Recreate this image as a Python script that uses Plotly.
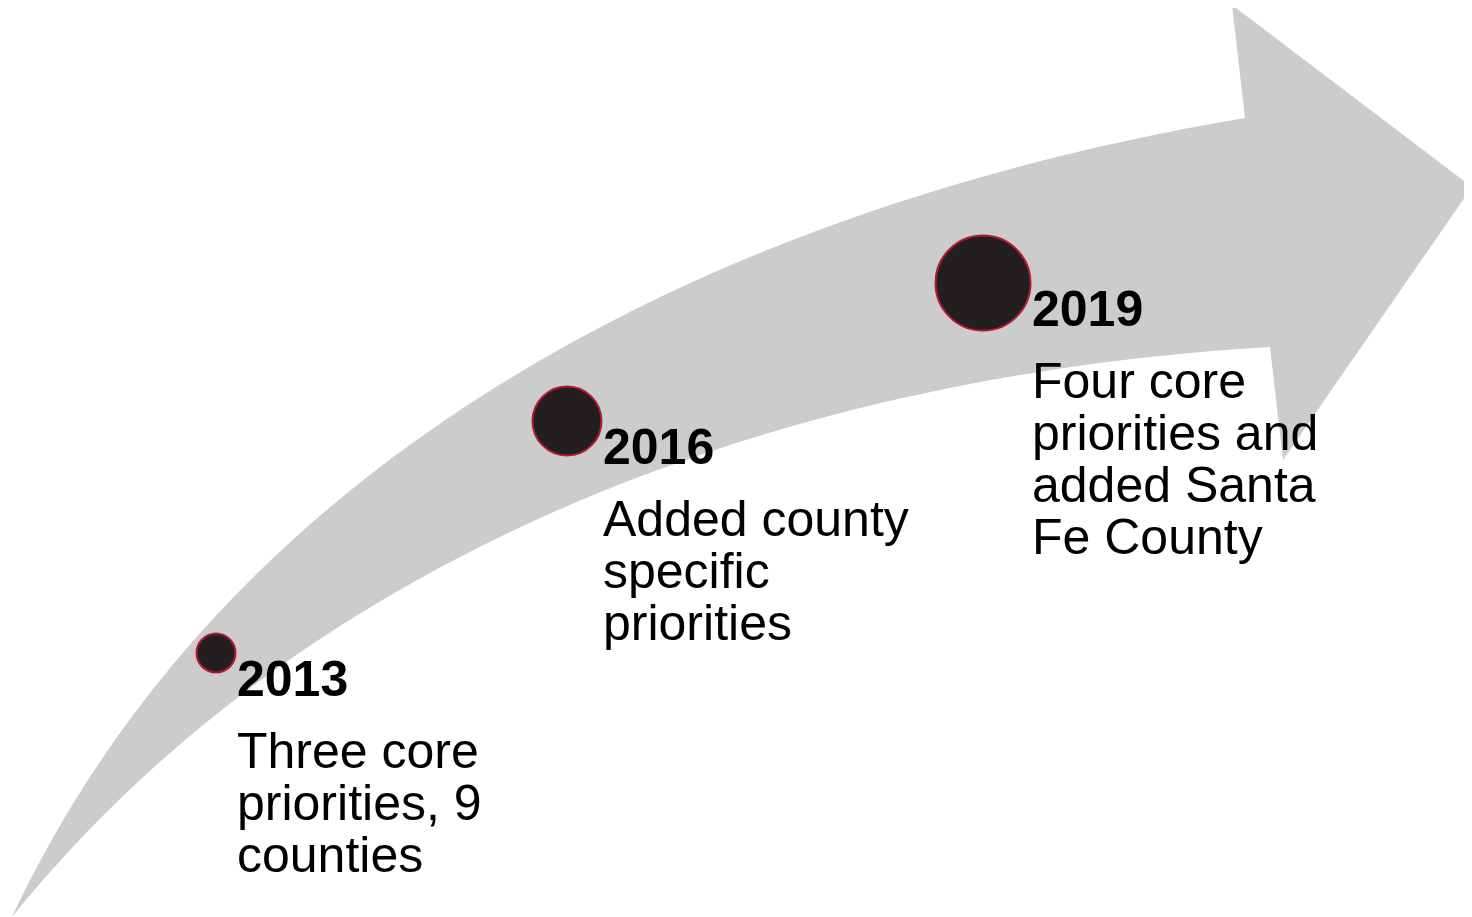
import numpy as np
import plotly.graph_objects as go

# ---- data ----
years = ["2013", "2016", "2019"]
descriptions = [
    ["Three core", "priorities, 9", "counties"],
    ["Added county", "specific", "priorities"],
    ["Four core", "priorities and", "added Santa", "Fe County"],
]

# ---- layout geometry (canvas pixels) ----
W, H = 1472, 917
OFF = 8  # page body margin compensation
milestone_geom = {
    "cx": [216, 567, 983],
    "cy": [653, 421, 283],
    "r": [20, 35, 48],
}
upper_edge = [(12, 917), (67, 830), (133, 737), (187, 660), (240, 581), (327, 500),
              (400, 449), (533, 357), (600, 323), (700, 280), (800, 240), (900, 207),
              (1000, 175), (1100, 150), (1200, 127), (1245, 118)]
lower_edge = [(12, 917), (100, 830), (200, 727), (300, 652), (400, 588), (500, 535),
              (600, 490), (700, 453), (800, 425), (900, 402), (1000, 380), (1100, 363),
              (1200, 352), (1270, 347)]
head = [(1245, 118), (1232, 5), (1472, 187), (1283, 460), (1270, 347)]

GRAY = "#cccccc"
FILL = "#231f20"
RING = "#b3192f"
FONT = "Liberation Sans, Arial, sans-serif"
FS = 50
LINE_H = 52


def fit_bezier(points):
    """Least-squares cubic Bezier with fixed end points."""
    P = np.array(points, dtype=float)
    d = np.sqrt(((P[1:] - P[:-1]) ** 2).sum(axis=1))
    t = np.concatenate([[0], np.cumsum(d)]) / d.sum()
    b0 = (1 - t) ** 3
    b1 = 3 * t * (1 - t) ** 2
    b2 = 3 * t ** 2 * (1 - t)
    b3 = t ** 3
    A = np.stack([b1, b2], axis=1)
    rhs = P - np.outer(b0, P[0]) - np.outer(b3, P[-1])
    sol, *_ = np.linalg.lstsq(A, rhs, rcond=None)
    return P[0], sol[0], sol[1], P[-1]


u0, u1, u2, u3 = fit_bezier(upper_edge)
l0, l1, l2, l3 = fit_bezier(lower_edge)


def fmt(p):
    return f"{p[0]:.1f},{p[1]:.1f}"


path = f"M {fmt(u0)} C {fmt(u1)} {fmt(u2)} {fmt(u3)}"
for p in head[1:]:
    path += f" L {fmt(p)}"
path += f" C {fmt(l2)} {fmt(l1)} {fmt(l0)} Z"

fig = go.Figure()

fig.add_trace(go.Scatter(
    x=milestone_geom["cx"], y=milestone_geom["cy"],
    mode="markers",
    marker=dict(size=[2 * r - 1 for r in milestone_geom["r"]], color=FILL,
                opacity=1, line=dict(color=RING, width=2)),
    text=years, hoverinfo="text", showlegend=False,
))

annotations = []
for yr, desc, cx, cy, r in zip(years, descriptions, milestone_geom["cx"],
                               milestone_geom["cy"], milestone_geom["r"]):
    x0 = cx + r
    base = cy + 43.5
    annotations.append(dict(x=x0, y=base - 0.3465 * FS, xref="x", yref="y",
                            text=f"<b>{yr}</b>", showarrow=False, xanchor="left",
                            yanchor="middle", borderpad=0,
                            font=dict(family=FONT, size=FS, color="#000000")))
    for i, line in enumerate(desc):
        b = base + 71.5 + i * LINE_H
        annotations.append(dict(x=x0, y=b - 0.3465 * FS, xref="x", yref="y",
                                text=line, showarrow=False, xanchor="left",
                                yanchor="middle", borderpad=0,
                                font=dict(family=FONT, size=FS, color="#000000")))

fig.update_layout(
    width=W - OFF, height=H - OFF,
    margin=dict(l=0, r=0, t=0, b=0),
    paper_bgcolor="white", plot_bgcolor="white",
    xaxis=dict(range=[OFF, W], visible=False, fixedrange=True),
    yaxis=dict(range=[H, OFF], visible=False, fixedrange=True),
    shapes=[dict(type="path", path=path, xref="x", yref="y",
                 fillcolor=GRAY, line=dict(width=0), layer="below")],
    annotations=annotations,
)

fig.write_html("out.html")
